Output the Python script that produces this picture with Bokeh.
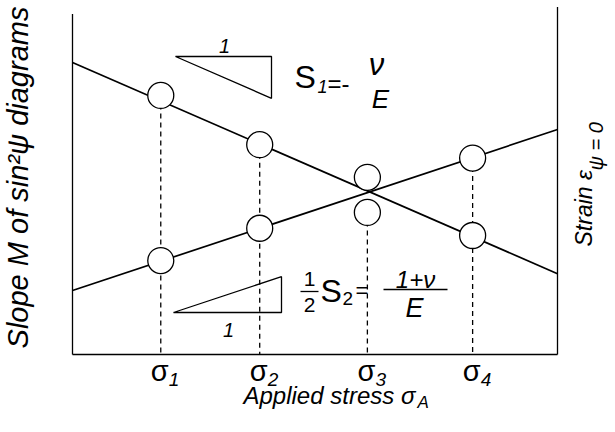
import numpy as np
from bokeh.plotting import figure
from bokeh.models import Range1d
from bokeh.core.properties import value
from bokeh.embed import file_html
from bokeh.resources import INLINE

# Applied stress levels sigma_1..sigma_4 (stress axis runs 0..100)
stress = [18.2, 38.6, 60.8, 82.5]
stress_subscripts = ["1", "2", "3", "4"]

# Slope M of the sin^2(psi) diagrams at each stress level
slope_M = [75.3, 61.0, 51.5, 34.6]
# Strain at psi = 0 at each stress level
strain = [27.3, 36.7, 41.3, 57.1]

# Straight-line fits through both series, across the stress axis
fit_x = [0, 100]
fit_M = [84.9, 23.5]
fit_strain = [18.6, 65.4]

# ---------------------------------------------------------------------
W, H = 615, 432
BOX_L, BOX_R = 72, 557      # stress axis 0..100 in pixels
BOX_B, BOX_T = 354, 10      # value axis 0..100 in pixels
SX = (BOX_R - BOX_L) / 100.0
SY = (BOX_B - BOX_T) / 100.0


def dx(px):
    return (px - BOX_L) / SX


def dy(py):
    return (BOX_B - py) / SY


FONT = value("Liberation Sans")

p = figure(width=W, height=H,
           x_range=Range1d(dx(0), dx(W)), y_range=Range1d(dy(H), dy(0)),
           x_axis_location=None, y_axis_location=None,
           toolbar_location=None, output_backend="svg", min_border=0)
p.grid.visible = False
p.outline_line_color = None
p.background_fill_color = "white"
p.border_fill_color = "white"

# axis frame: left (slope M), right (strain), bottom (applied stress)
p.segment(x0=[0, 100, 0], y0=[0, 0, 0], x1=[0, 100, 100], y1=[99, 101, 0],
          line_color="black", line_width=1.3)

# fitted lines
p.line(fit_x, fit_M, line_color="black", line_width=1.7)
p.line(fit_x, fit_strain, line_color="black", line_width=1.7)

# dashed drop lines from the measured points to the stress axis
M = np.array(slope_M)
e = np.array(strain)
close = np.abs(M - e) < 15
dash_top = np.where(close, np.minimum(M, e), np.maximum(M, e))
p.segment(x0=stress, y0=dash_top, x1=stress, y1=[0] * len(stress),
          line_color="black", line_width=1.3, line_dash="5 4")

# measured points
for series in (slope_M, strain):
    p.scatter(stress, series, size=26, marker="circle",
              fill_color="white", line_color="black", line_width=1.3)


def txt(xp, yp, s, size, style="italic", align="left", angle=0.0):
    p.text(x=[dx(xp)], y=[dy(yp)], text=[s], text_font=FONT,
           text_font_size=f"{size}px", text_font_style=style,
           text_align=align, text_baseline="middle", angle=angle,
           text_color="black")


# slope triangles, hypotenuse parallel to each fitted line
slope_m = (fit_M[1] - fit_M[0]) / (fit_x[1] - fit_x[0])
slope_s = (fit_strain[1] - fit_strain[0]) / (fit_x[1] - fit_x[0])

ta, tb, ttop = dx(175), dx(271), dy(56)
p.patch([ta, tb, tb], [ttop, ttop, ttop + slope_m * (tb - ta)],
        fill_color=None, line_color="black", line_width=1.3)
txt(224, 45, "1", 20, align="center")

ba, bb, bbase = dx(173), dx(281), dy(312)
p.patch([ba, bb, bb], [bbase, bbase, bbase + slope_s * (bb - ba)],
        fill_color=None, line_color="black", line_width=1.3)
txt(228, 329, "1", 20, align="center")

# S1 = -nu/E
txt(294, 76, "S", 32, style="normal")
txt(317, 86, "1", 18)
txt(327, 83, "=-", 24, style="normal")
txt(376, 64, "ν", 31, align="center")
txt(380, 98, "E", 26, align="center")

# 1/2 S2 = (1+nu)/E
txt(309, 278, "1", 21, style="normal", align="center")
txt(309, 304, "2", 21, style="normal", align="center")
txt(320, 290, "S", 32, style="normal")
txt(342, 298, "2", 19, style="normal")
txt(355, 290, "=", 22, style="normal")
txt(415, 279, "1+ν", 24, align="center")
txt(414, 307, "E", 27, align="center")
p.segment(x0=[dx(300), dx(383)], y0=[dy(291), dy(289)],
          x1=[dx(318), dx(447)], y1=[dy(291), dy(289)],
          line_color="black", line_width=1.3)

# stress tick labels
for s, sub in zip(stress, stress_subscripts):
    xp = BOX_L + s * SX
    txt(xp - 1, 370, "σ", 29, style="normal", align="center")
    txt(xp + 8, 379, sub, 19)

# axis titles
txt(243, 395, "Applied stress σ", 24)
txt(417, 402, "A", 17)

txt(17, 177, "Slope M of sin²ψ diagrams", 29, align="center", angle=np.pi / 2)

txt(583, 246, "Strain ε", 23, angle=np.pi / 2)
txt(595, 170, "ψ = 0", 20, angle=np.pi / 2)

open("out.html", "w").write(file_html(p, INLINE))
